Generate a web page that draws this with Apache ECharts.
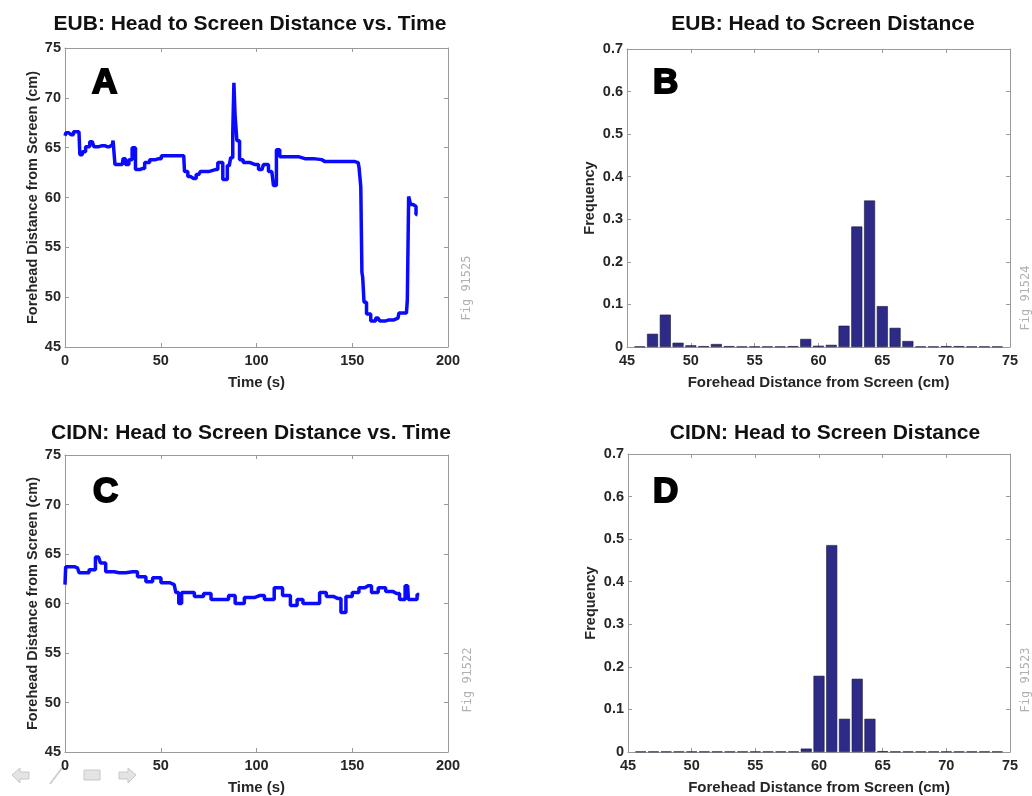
<!DOCTYPE html>
<html>
<head>
<meta charset="utf-8">
<script src="https://cdn.jsdelivr.net/npm/echarts@6/dist/echarts.min.js"></script>
<style>
html,body{margin:0;padding:0;background:#fff;}
#chart{width:1032px;height:796px;}
</style>
</head>
<body>
<div id="chart"></div>
<script>
// ---- Panel A: EUB head-to-screen distance vs time ----
const timeA = [0,1,2.5,3.8,5,7.3,8.2,9.9,11.6,14.2,16.0,19.4,22,24.7,25.5,26.7,29.9,30.7,32.5,34.2,35.9,37.7,40.3,42.9,45.5,49.0,51.6,55.9,62.0,62.8,65.5,67.2,69.8,71.5,78.5,81.1,83.7,85.8,87.2,88.0,88.4,89.2,90.3,92.0,94.1,99.3,102.8,104.5,108.0,109.7,111.1,113.2,118.4,125.3,134.0,135.8,149.7,153.1,154.0,154.9,155.2,155.7,156.6,158.3,161.0,163.5,165.4,168.8,173.9,174.8,178.3,179.2,179.7,180.0,180.9,182.6,184.0];
const distA = [66.2,66.5,66.3,66.3,66.6,66.6,64.3,64.6,65.1,65.6,65.1,65.2,65.1,65.3,65.7,63.3,63.3,63.9,63.3,63.8,65.0,62.8,62.9,63.5,63.8,63.9,64.2,64.2,64.2,62.6,62.1,61.9,62.3,62.6,62.8,63.5,61.8,63.2,64.0,66.5,71.5,68.3,65.7,63.8,63.5,63.3,62.8,63.3,62.6,61.2,64.8,64.1,64.1,63.9,63.8,63.6,63.6,63.5,63.0,61.1,52.5,52.0,49.5,48.3,47.6,47.9,47.6,47.7,47.9,48.4,48.4,49.7,60.1,60.3,59.3,59.1,58.3];

// ---- Panel C: CIDN head-to-screen distance vs time ----
const timeC = [0,0.7,3.8,6.5,8.2,10.8,14.3,17.5,19.5,23,28.3,35.2,40.5,44,47.5,52.7,57,58.8,60,61.8,64.9,70.2,74.5,78,84.1,86.7,91,96.3,101.5,106.8,111.7,115.5,119.9,122.5,126,131.2,134.7,138.2,142.6,145.6,147.8,152.2,154.8,158.3,161.8,165.3,169.6,173.1,176.3,178.9,179.8,182.7,185];
const distC = [61.9,63.7,63.7,63.6,63.1,63.1,63.4,64.7,64.1,63.2,63.1,63.2,62.7,62.2,62.6,62.1,61.9,61.1,60.0,61.1,61.1,60.7,61.0,60.4,60.4,60.8,60.0,60.6,60.8,60.4,61.6,60.8,59.8,60.4,60.0,60.0,61.1,60.7,60.5,59.1,60.7,61.1,61.6,61.8,61.1,61.6,61.2,61.0,60.4,61.8,60.4,60.4,60.9];

// ---- Panel B: EUB histogram ----
const binsB = [46,47,48,49,50,51,52,53,54,55,56,57,58,59,60,61,62,63,64,65,66,67,68,69,70,71,72,73,74];
const freqB = [0.001,0.031,0.076,0.010,0.004,0.002,0.007,0.002,0.001,0.001,0.001,0.001,0.002,0.019,0.003,0.005,0.050,0.283,0.344,0.096,0.045,0.014,0.001,0.001,0.002,0.002,0.001,0.001,0.001];

// ---- Panel D: CIDN histogram ----
const binsD = [46,47,48,49,50,51,52,53,54,55,56,57,58,59,60,61,62,63,64,65,66,67,68,69,70,71,72,73,74];
const freqD = [0.001,0.001,0.001,0.001,0.001,0.001,0.001,0.001,0.001,0.001,0.001,0.001,0.001,0.008,0.179,0.486,0.078,0.172,0.078,0.002,0.001,0.001,0.001,0.001,0.001,0.001,0.001,0.001,0.001];

const titles = ['EUB: Head to Screen Distance vs. Time','EUB: Head to Screen Distance','CIDN: Head to Screen Distance vs. Time','CIDN: Head to Screen Distance'];
const panelLetters = ['A','B','C','D'];
const figTags = ['Fig 91525','Fig 91524','Fig 91522','Fig 91523'];
const timeLabel = 'Time (s)';
const distLabel = 'Forehead Distance from Screen (cm)';
const freqLabel = 'Frequency';

const FONT = '"Liberation Sans", Arial, sans-serif';
const AXIS_COLOR = '#9a9a9a';
const LABEL_COLOR = '#262626';

const grids = [
  {left:65, top:48, width:383, height:299},
  {left:627, top:49, width:383, height:298},
  {left:65, top:455, width:383, height:298},
  {left:628, top:454, width:382, height:300}
];

function mainX(gi, min, max, interval, name){
  return {gridIndex:gi, type:'value', min:min, max:max, interval:interval, position:'bottom',
    name:name, nameLocation:'middle', nameGap:28,
    nameTextStyle:{fontFamily:FONT, fontWeight:'bold', fontSize:15, color:LABEL_COLOR},
    axisLine:{show:true, onZero:false, lineStyle:{color:AXIS_COLOR, width:1}},
    axisTick:{show:true, inside:true, length:4, lineStyle:{color:AXIS_COLOR}},
    axisLabel:{show:true, margin:6, fontFamily:FONT, fontWeight:'bold', fontSize:14.5, color:LABEL_COLOR},
    splitLine:{show:false}};
}
function topX(gi, min, max, interval){
  return {gridIndex:gi, type:'value', min:min, max:max, interval:interval, position:'top',
    axisLine:{show:true, onZero:false, lineStyle:{color:AXIS_COLOR, width:1}},
    axisTick:{show:true, inside:true, length:4, lineStyle:{color:AXIS_COLOR}},
    axisLabel:{show:false}, splitLine:{show:false}};
}
function mainY(gi, min, max, interval, name, gap, fmt){
  return {gridIndex:gi, type:'value', min:min, max:max, interval:interval, position:'left',
    name:name, nameLocation:'middle', nameGap:gap, nameRotate:90,
    nameTextStyle:{fontFamily:FONT, fontWeight:'bold', fontSize:14.5, color:LABEL_COLOR},
    axisLine:{show:true, onZero:false, lineStyle:{color:AXIS_COLOR, width:1}},
    axisTick:{show:true, inside:true, length:4, lineStyle:{color:AXIS_COLOR}},
    axisLabel:{show:true, margin:4, fontFamily:FONT, fontWeight:'bold', fontSize:14.5, color:LABEL_COLOR, formatter:fmt},
    splitLine:{show:false}};
}
function rightY(gi, min, max, interval){
  return {gridIndex:gi, type:'value', min:min, max:max, interval:interval, position:'right',
    axisLine:{show:true, onZero:false, lineStyle:{color:AXIS_COLOR, width:1}},
    axisTick:{show:true, inside:true, length:4, lineStyle:{color:AXIS_COLOR}},
    axisLabel:{show:false}, splitLine:{show:false}};
}
const freqFmt = function(v){ return v === 0 ? '0' : v.toFixed(1); };
const intFmt = function(v){ return String(Math.round(v)); };

const xAxes = [
  mainX(0,0,200,50,timeLabel), mainX(1,45,75,5,distLabel), mainX(2,0,200,50,timeLabel), mainX(3,45,75,5,distLabel),
  topX(0,0,200,50), topX(1,45,75,5), topX(2,0,200,50), topX(3,45,75,5)
];
const yAxes = [
  mainY(0,45,75,5,distLabel,25,intFmt), mainY(1,0,0.7,0.1,freqLabel,30,freqFmt), mainY(2,45,75,5,distLabel,25,intFmt), mainY(3,0,0.7,0.1,freqLabel,30,freqFmt),
  rightY(0,45,75,5), rightY(1,0,0.7,0.1), rightY(2,45,75,5), rightY(3,0,0.7,0.1)
];

function zip(a,b){ return a.map(function(v,i){ return [v,b[i]]; }); }

const LINE_COLOR = '#0a0aff';
const BAR_COLOR = '#2e2a87';

const series = [
  {type:'line', xAxisIndex:0, yAxisIndex:0, data:zip(timeA,distA), showSymbol:false, symbol:'none', step:'middle',
    lineStyle:{color:LINE_COLOR, width:3.5}, animation:false},
  {type:'bar', xAxisIndex:1, yAxisIndex:1, data:zip(binsB,freqB), barWidth:11,
    itemStyle:{color:BAR_COLOR, borderColor:'#1a1a3a', borderWidth:0.6}, animation:false},
  {type:'line', xAxisIndex:2, yAxisIndex:2, data:zip(timeC,distC), showSymbol:false, symbol:'none', step:'middle',
    lineStyle:{color:LINE_COLOR, width:3.5}, animation:false},
  {type:'bar', xAxisIndex:3, yAxisIndex:3, data:zip(binsD,freqD), barWidth:11,
    itemStyle:{color:BAR_COLOR, borderColor:'#1a1a3a', borderWidth:0.6}, animation:false}
];

const titleCenters = [[245,9],[818,9],[246,418],[820,418]];
const title = titles.map(function(t,i){
  return {text:t, left:titleCenters[i][0], top:titleCenters[i][1], textAlign:'center',
    textStyle:{fontFamily:FONT, fontWeight:'bold', fontSize:21, color:'#111'}};
});

const letterPos = [[91,65],[652,65],[92,474],[652,474]];
const figPos = [[467,288],[1026,298],[468,680],[1026,680]];
const graphic = [];
panelLetters.forEach(function(L,i){
  graphic.push({type:'text', left:letterPos[i][0], top:letterPos[i][1], z:10,
    style:{text:L, fontFamily:FONT, fontWeight:'bold', fontSize:35, fill:'#000', stroke:'#000', lineWidth:2}});
});
figTags.forEach(function(f,i){
  graphic.push({type:'text', x:figPos[i][0], y:figPos[i][1], rotation:Math.PI/2, z:10,
    style:{text:f, fontFamily:'"DejaVu Sans Mono", monospace', fontSize:12, fill:'#b0b0b0', align:'center', verticalAlign:'middle'}});
});
// faint toolbar icons bottom-left
graphic.push({type:'polygon', shape:{points:[[12,775],[20,768],[20,772],[29,772],[29,779],[20,779],[20,783]]}, style:{fill:'#e4e4e4', stroke:'#c8c8c8', lineWidth:1}});
graphic.push({type:'line', shape:{x1:50,y1:784,x2:62,y2:768}, style:{stroke:'#cfcfcf', lineWidth:2}});
graphic.push({type:'rect', shape:{x:84,y:770,width:16,height:10}, style:{fill:'#e4e4e4', stroke:'#c8c8c8', lineWidth:1}});
graphic.push({type:'polygon', shape:{points:[[136,775],[128,768],[128,772],[119,772],[119,779],[128,779],[128,783]]}, style:{fill:'#e4e4e4', stroke:'#c8c8c8', lineWidth:1}});

const chart = echarts.init(document.getElementById('chart'), null, {renderer:'canvas'});
chart.setOption({
  animation:false,
  backgroundColor:'#ffffff',
  title:title,
  grid:grids,
  xAxis:xAxes,
  yAxis:yAxes,
  series:series,
  graphic:graphic
});
</script>
</body>
</html>
